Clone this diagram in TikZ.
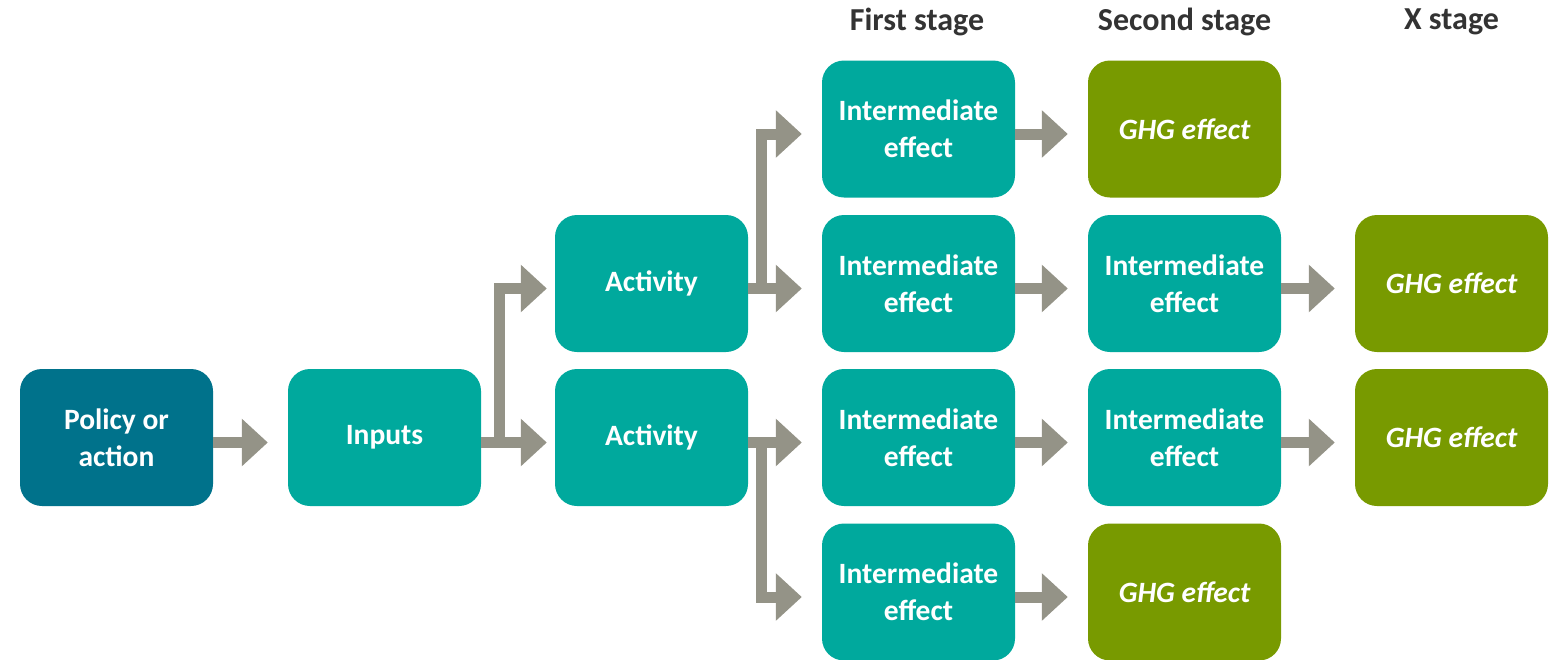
\documentclass[tikz,border=0pt]{standalone}
\usepackage{fontspec}
\setmainfont{Carlito}
\usetikzlibrary{arrows.meta}
\definecolor{dteal}{HTML}{00728B}
\definecolor{tealbox}{HTML}{00A99D}
\definecolor{olivebox}{HTML}{789A00}
\definecolor{arrgray}{HTML}{949387}
\definecolor{hdr}{HTML}{333333}
\tikzset{
  box/.style={rounded corners=22pt, minimum width=193pt, minimum height=137pt, inner sep=0pt,
    text=white, align=center, font=\fontsize{29.5}{37}\selectfont\bfseries},
  pbox/.style={box, fill=dteal},
  tbox/.style={box, fill=tealbox},
  gbox/.style={box, fill=olivebox, font=\fontsize{29.5}{37}\selectfont\bfseries\itshape},
  hlabel/.style={text=hdr, font=\fontsize{32}{38}\selectfont\bfseries},
  arr/.style={draw=arrgray, line width=11pt, line join=miter, -{Triangle[width=46pt,length=26pt]}}
}
\newcommand\harr[3][20pt]{\draw[arr] ([yshift=-5pt]#2.east) -- ([yshift=-5pt,xshift=-#1]#3.west);}
\begin{document}
\begin{tikzpicture}[x=1pt,y=-1pt]
\useasboundingbox (0,0) rectangle (1549,659);
% headers
\node[hlabel] (h1) at (917,22) {First stage};
\node[hlabel] (h2) at (1184.5,22) {Second stage};
\node[hlabel] (h3) at (1451.5,22) {X stage};
% boxes
\node[pbox] (pol) at (116.5,437.5) {Policy or\\action};
\node[tbox] (inp) at (384.5,437.5) {Inputs};
\node[tbox] (a1) at (651.5,283.5) {Activity};
\node[tbox] (a2) at (651.5,437.5) {Activity};
\node[tbox] (f1) at (918.5,129) {Intermediate\\effect};
\node[tbox] (f2) at (918.5,283.5) {Intermediate\\effect};
\node[tbox] (f3) at (918.5,437.5) {Intermediate\\effect};
\node[tbox] (f4) at (918.5,592) {Intermediate\\effect};
\node[gbox] (s1) at (1184.5,129) {GHG effect};
\node[tbox] (s2) at (1184.5,283.5) {Intermediate\\effect};
\node[tbox] (s3) at (1184.5,437.5) {Intermediate\\effect};
\node[gbox] (s4) at (1184.5,592) {GHG effect};
\node[gbox] (x2) at (1451.5,283.5) {GHG effect};
\node[gbox] (x3) at (1451.5,437.5) {GHG effect};
% connectors
\harr{pol}{inp}
\harr[8pt]{inp}{a2}
\draw[arr] ([yshift=-5pt]inp.east) -- ++(18,0) |- ([yshift=-5pt,xshift=-8pt]a1.west);
\harr{a1}{f2}
\draw[arr] ([yshift=-5pt]a1.east) -- ++(13,0) |- ([yshift=-5pt,xshift=-20pt]f1.west);
\harr{a2}{f3}
\draw[arr] ([yshift=-5pt]a2.east) -- ++(13,0) |- ([yshift=-5pt,xshift=-20pt]f4.west);
\harr{f1}{s1}
\harr{f2}{s2}
\harr{f3}{s3}
\harr{f4}{s4}
\harr{s2}{x2}
\harr{s3}{x3}
\end{tikzpicture}
\end{document}
